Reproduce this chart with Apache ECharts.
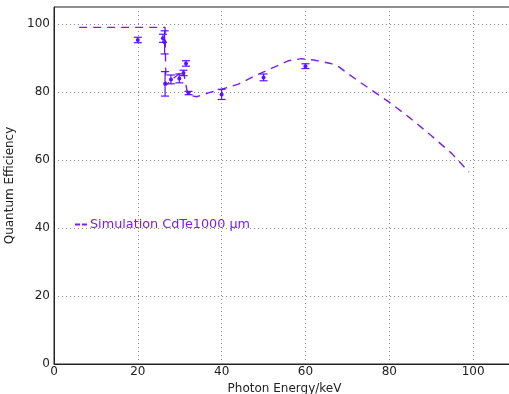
<!DOCTYPE html>
<html><head><meta charset="utf-8">
<script src="https://cdn.jsdelivr.net/npm/echarts@6/dist/echarts.min.js"></script>
<style>html,body{margin:0;padding:0;background:#fff}#c{width:509px;height:394px}</style>
</head><body><div id="c"></div>
<script>
// Simulation curve (Photon energy keV, QE %)
const simX = [6, 26.5, 26.7, 28, 30, 30.8, 31.8, 32.5, 34, 37, 40, 44, 48, 52, 56, 59, 62, 66, 68, 70, 75, 80, 85, 90, 95, 99];
const simY = [99, 99, 82, 83.5, 85.5, 86.5, 80, 79, 78.6, 79.8, 80.8, 82.3, 84.8, 87, 89.2, 89.8, 89.4, 88.4, 87.4, 85.5, 81.2, 77, 72.3, 67.2, 61.8, 56.5];
// Measured points with error bars
const measX = [20, 26.0, 26.4, 26.5, 27.9, 29.9, 30.9, 31.5, 32.1, 40, 50, 60];
const measY = [95.3, 95.8, 94.6, 82.4, 83.7, 84.0, 85.6, 88.4, 79.7, 79.3, 84.3, 87.6];
const measErr = [0.8, 1.2, 3.4, 3.6, 1.3, 1.3, 0.8, 0.8, 0.5, 1.5, 1.0, 0.7];
const xTicks = [0, 20, 40, 60, 80, 100];
const yTicks = [0, 20, 40, 60, 80, 100];

const lineColor = '#7a1cf5';
const ptColor = '#5a12ff';

const simData = simX.map((x, i) => [x, simY[i]]);
const errData = measX.map((x, i) => [x, measY[i], measY[i] - measErr[i], measY[i] + measErr[i]]);

const chart = echarts.init(document.getElementById('c'), null, {renderer: 'canvas'});
const axisFont = {fontFamily: 'DejaVu Sans', fontSize: 12, color: '#222'};
chart.setOption({
  animation: false,
  grid: {left: 54, top: 7, right: -6, bottom: 30, show: true, borderColor: '#222', borderWidth: 1, containLabel: false, outerBoundsMode: 'none'},
  legend: {
    left: 70, top: 213, itemWidth: 12, itemHeight: 10, itemGap: 0,
    data: [{name: 'Simulation CdTe1000 µm', icon: 'path://M0,4L5,4L5,6L0,6ZM7,4L12,4L12,6L7,6Z'}],
    itemStyle: {color: lineColor},
    textStyle: {
      fontFamily: 'DejaVu Sans', color: lineColor, fontSize: 12.8, padding: [0,0,0,-2],
      rich: {a: {fontFamily: 'DejaVu Sans', fontSize: 12.8, color: lineColor}, b: {fontFamily: 'DejaVu Sans', fontSize: 12.8, color: lineColor}}
    },
    formatter: () => '{a|Simulation CdTe}{b|1000 µm}'
  },
  xAxis: {
    type: 'value', min: 0, max: 110, interval: 20,
    name: 'Photon Energy/keV', nameLocation: 'middle', nameGap: 16,
    nameTextStyle: {fontFamily: 'DejaVu Sans', fontSize: 12, color: '#222'},
    axisLine: {show: true, lineStyle: {color: '#222', width: 1}},
    axisTick: {show: false},
    axisLabel: Object.assign({margin: 2, showMaxLabel: false, formatter: v => xTicks.includes(v) ? String(v) : ''}, axisFont),
    splitLine: {show: true, lineStyle: {color: '#8a8a8a', type: [1, 3], width: 1}}
  },
  yAxis: {
    type: 'value', min: 0, max: 105, interval: 20,
    name: 'Quantum Efficiency', nameLocation: 'middle', nameGap: 32,
    nameTextStyle: {fontFamily: 'DejaVu Sans', fontSize: 12, color: '#222'},
    axisLine: {show: true, lineStyle: {color: '#222', width: 1}},
    axisTick: {show: false},
    axisLabel: Object.assign({margin: 4, showMaxLabel: false, formatter: v => yTicks.includes(v) ? String(v) : ''}, axisFont),
    splitLine: {show: true, lineStyle: {color: '#8a8a8a', type: [1, 3], width: 1}}
  },
  series: [
    {
      name: 'Simulation CdTe1000 µm', type: 'line', data: simData, symbol: 'none',
      lineStyle: {color: lineColor, width: 1.4, type: [8, 6]}, itemStyle: {color: lineColor}, z: 3
    },
    {
      name: 'meas', type: 'custom', data: errData, z: 4,
      renderItem: (params, api) => {
        const x = api.value(0), y = api.value(1), lo = api.value(2), hi = api.value(3);
        const p = api.coord([x, y]), pl = api.coord([x, lo]), ph = api.coord([x, hi]);
        const w = 4;
        const st = {stroke: ptColor, lineWidth: 1.2};
        return {type: 'group', children: [
          {type: 'line', shape: {x1: pl[0], y1: pl[1], x2: ph[0], y2: ph[1]}, style: st},
          {type: 'line', shape: {x1: pl[0]-w, y1: pl[1], x2: pl[0]+w, y2: pl[1]}, style: st},
          {type: 'line', shape: {x1: ph[0]-w, y1: ph[1], x2: ph[0]+w, y2: ph[1]}, style: st},
          {type: 'circle', shape: {cx: p[0], cy: p[1], r: 2}, style: {fill: ptColor}}
        ]};
      }
    }
  ]
});
</script></body></html>
